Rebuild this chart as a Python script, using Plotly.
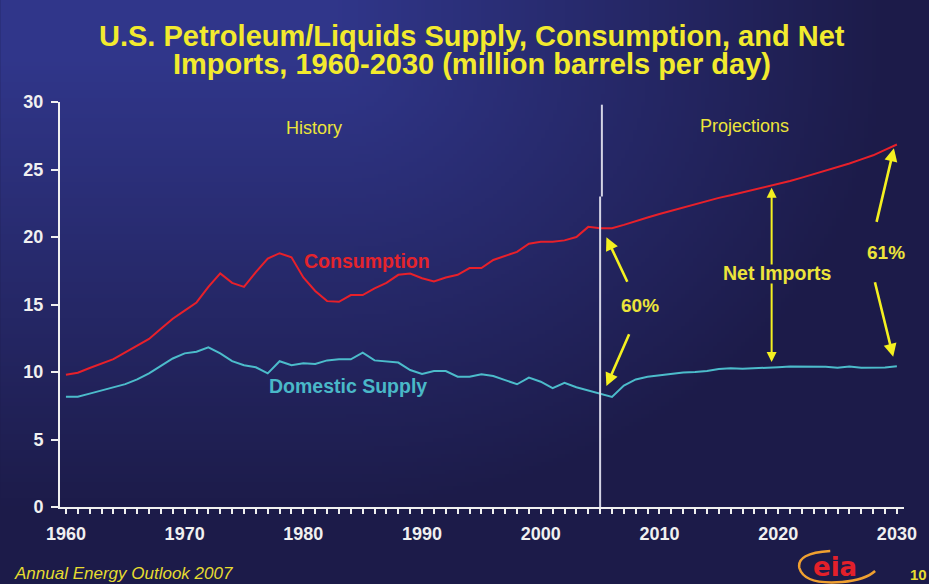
import math, zlib, struct, base64
import plotly.graph_objects as go

# ---------------- data ----------------
years = list(range(1960, 2031))

consumption = [9.80, 9.95, 10.30, 10.65, 10.95, 11.45, 11.95, 12.45, 13.20, 13.95,
               14.55, 15.15, 16.30, 17.30, 16.60, 16.30, 17.40, 18.40, 18.80, 18.50,
               17.00, 16.00, 15.25, 15.20, 15.70, 15.70, 16.20, 16.60, 17.20, 17.30,
               16.95, 16.70, 17.00, 17.20, 17.70, 17.70, 18.30, 18.60, 18.90, 19.50,
               19.65, 19.65, 19.75, 20.00, 20.75, 20.65,
               20.65, 20.90, 21.20, 21.45, 21.70, 21.95, 22.20, 22.45, 22.70, 22.90,
               23.10, 23.30, 23.50, 23.70, 23.90, 24.15, 24.40, 24.65, 24.90, 25.15,
               25.45, 25.75, 26.05, 26.45, 26.85]

domestic_supply = [8.17, 8.17, 8.40, 8.65, 8.87, 9.10, 9.45, 9.90, 10.45, 11.00,
                   11.38, 11.50, 11.83, 11.38, 10.80, 10.50, 10.35, 9.90, 10.80, 10.50,
                   10.64, 10.60, 10.86, 10.94, 10.94, 11.43, 10.86, 10.77, 10.70, 10.15,
                   9.85, 10.07, 10.07, 9.65, 9.65, 9.83, 9.70, 9.40, 9.09, 9.58,
                   9.28, 8.80, 9.20, 8.87, 8.62, 8.35,
                   8.15, 9.00, 9.45, 9.65, 9.75, 9.90, 9.97, 10.00, 10.07, 10.22,
                   10.27, 10.25, 10.27, 10.30, 10.35, 10.40, 10.40, 10.40, 10.38, 10.32,
                   10.40, 10.32, 10.32, 10.33, 10.42]

x_tick_labels = ["1960", "1970", "1980", "1990", "2000", "2010", "2020", "2030"]
y_tick_labels = ["0", "5", "10", "15", "20", "25", "30"]

# ---------------- background gradient ----------------
W, H = 929, 584
def make_png(w, h):
    raw = bytearray()
    light = (48, 54, 138)
    dark = (28, 27, 73)
    for j in range(h):
        raw.append(0)
        Y = (j + 0.5) * H / h
        for i in range(w):
            X = (i + 0.5) * W / w
            dx = max(0.0, X - 330) / 560
            dy = max(0.0, Y - 60) / 450
            t = min(1.0, math.sqrt(dx * dx + dy * dy))
            raw += bytes(int(round(light[k] + (dark[k] - light[k]) * t)) for k in range(3))
    def chunk(tag, data):
        c = struct.pack('>I', len(data)) + tag + data
        return c + struct.pack('>I', zlib.crc32(tag + data) & 0xffffffff)
    png = (b'\x89PNG\r\n\x1a\n'
           + chunk(b'IHDR', struct.pack('>IIBBBBB', w, h, 8, 2, 0, 0, 0))
           + chunk(b'IDAT', zlib.compress(bytes(raw), 9))
           + chunk(b'IEND', b''))
    return 'data:image/png;base64,' + base64.b64encode(png).decode()

bg = make_png(232, 146)

# plot area in pixels
L, R, T, B = 60, 907, 102, 507
PW, PH = R - L, B - T
def px(x):
    return (x - L) / PW
def py(y):
    return (B - y) / PH

FONT = "Liberation Sans, Arial"

fig = go.Figure()
fig.add_trace(go.Scatter(x=years, y=consumption, mode="lines",
                         line=dict(color="#e8202a", width=2), hoverinfo="skip"))
fig.add_trace(go.Scatter(x=years, y=domestic_supply, mode="lines",
                         line=dict(color="#4cbccb", width=2), hoverinfo="skip"))

YEL = "#ece43a"
ARW = "#f4f020"
ann = []
def txt(x, y, s, size, color, bold=True, **kw):
    s2 = f"<b>{s}</b>" if bold else s
    d = dict(x=x, y=y, xref="x", yref="y", text=s2, showarrow=False,
             font=dict(size=size, color=color, family=FONT))
    d.update(kw)
    ann.append(d)

txt(1980.9, 28.1, "History", 18, YEL, bold=False)
txt(2017.2, 28.2, "Projections", 18, YEL, bold=False)
txt(1985.4, 18.25, "Consumption", 19.5, "#e4242c")
txt(1983.8, 8.99, "Domestic Supply", 19.5, "#4ab8c8")
txt(2008.4, 14.89, "60%", 19, YEL)
txt(2019.95, 17.36, "Net Imports", 19.5, YEL)
txt(2029.05, 18.84, "61%", 19, YEL)

def arrow(x0, y0, x1, y1, w=2.6):
    ann.append(dict(x=x1, y=y1, ax=x0, ay=y0, xref="x", yref="y", axref="x", ayref="y",
                    text="", showarrow=True, arrowhead=2, arrowsize=1.0, arrowwidth=w,
                    arrowcolor=ARW, standoff=0, startstandoff=0))

arrow(2007.35, 16.57, 2005.53, 19.98)
arrow(2007.50, 12.91, 2005.53, 8.96)
arrow(2028.26, 21.01, 2029.75, 26.57)
arrow(2028.12, 16.76, 2029.69, 11.13)
arrow(2019.45, 17.85, 2019.45, 23.65, w=2)
arrow(2019.45, 16.67, 2019.45, 10.75, w=2)

# title (two lines)
TITLE_C = "#f2ea2e"
for line, yc in [("U.S. Petroleum/Liquids Supply, Consumption, and Net", 36),
                 ("Imports, 1960-2030 (million barrels per day)", 63.5)]:
    ann.append(dict(x=px(473), y=py(yc), xref="paper", yref="paper", showarrow=False,
                    text=f"<b>{line}</b>", xanchor="center", yanchor="middle",
                    font=dict(size=29, color=TITLE_C, family=FONT)))

# footer
ann.append(dict(x=px(12), y=py(573), xref="paper", yref="paper", showarrow=False,
                text="<i>Annual Energy Outlook 2007</i>", xanchor="left", yanchor="middle",
                font=dict(size=17, color="#e6dc30", family=FONT)))
ann.append(dict(x=px(911), y=py(574), xref="paper", yref="paper", showarrow=False,
                text="<b>10</b>", xanchor="left", yanchor="middle",
                font=dict(size=15, color="#e6dc30", family=FONT)))
ann.append(dict(x=px(838), y=py(567), xref="paper", yref="paper", showarrow=False,
                text="<b>eia</b>", xanchor="center", yanchor="middle",
                font=dict(size=26, color="#e3202a", family="DejaVu Sans, Arial")))

swoosh = "M %.5f,%.5f Q %.5f,%.5f %.5f,%.5f Q %.5f,%.5f %.5f,%.5f Q %.5f,%.5f %.5f,%.5f" % (
    px(833), py(551), px(799), py(553), px(802), py(568),
    px(807), py(585), px(845), py(582), px(868), py(580), px(878), py(571))

shapes = [
    dict(type="line", xref="x", yref="y", x0=2005.0, x1=2005.0, y0=0, y1=23.0,
         line=dict(color="#d4d4e4", width=2)),
    dict(type="line", xref="x", yref="y", x0=2005.15, x1=2005.15, y0=23.0, y1=29.8,
         line=dict(color="#d4d4e4", width=2)),
    dict(type="path", xref="paper", yref="paper", path=swoosh,
         line=dict(color="#f0a030", width=2.5)),
]

fig.update_layout(
    width=929, height=584,
    margin=dict(l=L, r=W - R, t=T, b=H - B, pad=0),
    paper_bgcolor="#1c1b49",
    plot_bgcolor="rgba(0,0,0,0)",
    showlegend=False,
    annotations=ann,
    shapes=shapes,
    images=[dict(source=bg, xref="paper", yref="paper", x=-L / PW, y=1 + T / PH,
                 sizex=W / PW, sizey=H / PH, sizing="stretch", xanchor="left",
                 yanchor="top", layer="below", opacity=1)],
    xaxis=dict(range=[1959.5, 2030.6], tickmode="array",
               tickvals=[int(v) for v in x_tick_labels],
               ticktext=[f"<b>{t}</b>" for t in x_tick_labels],
               showgrid=False, zeroline=False, showline=True, linecolor="#f0f0f0",
               linewidth=2, ticks="outside", ticklen=5, tickwidth=2, tickcolor="#f0f0f0",
               minor=dict(dtick=1, tick0=1960, ticks="outside", ticklen=5, tickwidth=2,
                          tickcolor="#f0f0f0", showgrid=False),
               tickfont=dict(size=18, color="#f0f0f0", family=FONT),
               ticklabelstandoff=4, fixedrange=True),
    yaxis=dict(range=[0, 30], tickmode="array",
               tickvals=[int(v) for v in y_tick_labels],
               ticktext=[f"<b>{t}</b>" for t in y_tick_labels],
               showgrid=False, zeroline=False, showline=True, linecolor="#f0f0f0",
               linewidth=2, ticks="outside", ticklen=7, tickwidth=2, tickcolor="#f0f0f0",
               tickfont=dict(size=18, color="#f0f0f0", family=FONT),
               ticklabelstandoff=4, fixedrange=True),
    font=dict(family=FONT),
)

fig.write_html("out.html", config={"displayModeBar": False},
               post_script="document.body.style.margin='0';document.body.style.overflow='hidden';")
